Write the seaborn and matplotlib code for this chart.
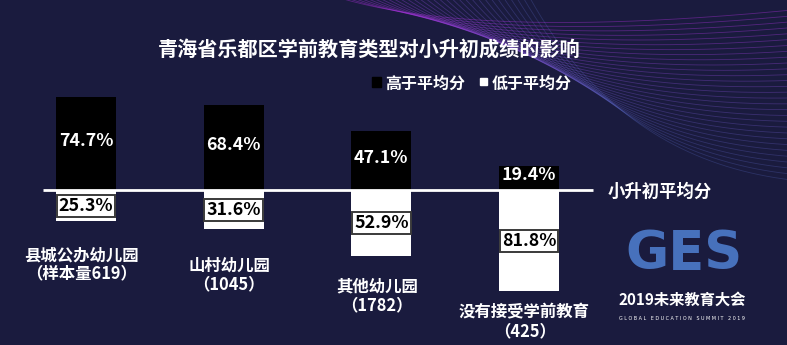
import matplotlib
matplotlib.use("Agg")
import matplotlib.pyplot as plt
from matplotlib.patches import Rectangle
import numpy as np
import pandas as pd
import seaborn as sns

# ---- data ----
categories = ["县城公办幼儿园", "山村幼儿园", "其他幼儿园", "没有接受学前教育"]
sample_labels = ["（样本量619）", "（1045）", "（1782）", "（425）"]
above_avg = [74.7, 68.4, 47.1, 19.4]   # 高于平均分 (%)
below_avg = [25.3, 31.6, 52.9, 81.8]   # 低于平均分 (%)
title = "青海省乐都区学前教育类型对小升初成绩的影响"
legend_labels = ["高于平均分", "低于平均分"]
line_label = "小升初平均分"

sns.set_theme(style="white")
plt.rcParams['font.family'] = ['Noto Sans CJK SC', 'DejaVu Sans']

BG = "#1a1b3e"
W_PX, H_PX = 787, 345
fig = plt.figure(figsize=(7.87, 3.45), dpi=100, facecolor=BG)

# ---- decoration layer (pixel coordinates) ----
deco = fig.add_axes([0, 0, 1, 1], zorder=0)
deco.set_xlim(0, W_PX)
deco.set_ylim(H_PX, 0)
deco.axis("off")
deco.set_facecolor(BG)
tt = np.linspace(0, 1, 200)
n_lines = 30
for k in range(n_lines):
    f = k / (n_lines - 1)
    x0, y0 = 340 + 190 * f, -2
    x1, y1 = 480 + 140 * f, 40 + 120 * f
    x2, y2 = W_PX + 5, 10 + 170 * f
    xs = (1 - tt) ** 2 * x0 + 2 * (1 - tt) * tt * x1 + tt ** 2 * x2
    ys = (1 - tt) ** 2 * y0 + 2 * (1 - tt) * tt * y1 + tt ** 2 * y2
    col = plt.cm.cool(0.45 + 0.35 * (1 - f))
    deco.plot(xs, ys, color=col, lw=0.6, alpha=0.2 + 0.15 * (1 - f))

# legend squares
deco.add_patch(Rectangle((372, 77), 9, 10, color="black", zorder=3))
deco.add_patch(Rectangle((480, 78), 7, 7, color="white", zorder=3))

# ---- main chart ----
ax = fig.add_axes([0, 0, 1, 1], zorder=1)
ax.patch.set_alpha(0)

df_above = pd.DataFrame({"cat": categories, "val": above_avg})
df_below = pd.DataFrame({"cat": categories, "val": [-v for v in below_avg]})

W = 0.406
sns.barplot(data=df_above, x="cat", y="val", color="black", width=W,
            saturation=1, ax=ax, zorder=2, linewidth=0)
sns.barplot(data=df_below, x="cat", y="val", color="white", width=W,
            saturation=1, ax=ax, zorder=2, linewidth=0)

ax.set_xlim(-0.582, 4.747)
ax.set_ylim(-125, 153)
ax.axis("off")

# average line
ax.plot([-0.291, 3.433], [0, 0], color="white", lw=2, zorder=3,
        solid_capstyle="butt")
ax.text(3.53, -1.5, line_label, color="white", fontsize=12.5,
        fontweight="bold", ha="left", va="center", zorder=4)

# value labels
for i, (a, b) in enumerate(zip(above_avg, below_avg)):
    ax.text(i, a / 2 + 2, f"{a}%", color="white", fontsize=12.8,
            fontweight="bold", ha="center", va="center", zorder=4)
    ax.text(i, -b / 2 - 0.5, f"{b}%", color="black", fontsize=12.8,
            fontweight="bold", ha="center", va="center", zorder=4,
            bbox=dict(boxstyle="square,pad=0.12", fc="white",
                      ec="#3a3a3a", lw=1.4))

# category labels
gaps = [20, 22, 18, 10]
for i, (c, s, b) in enumerate(zip(categories, sample_labels, below_avg)):
    ax.text(i - 0.03, -b - gaps[i], c + "\n" + s, color="white",
            fontsize=11.8, fontweight="bold", ha="center", va="top",
            linespacing=1.05, zorder=4)

# title and legend text
fig.text(0.469, 0.858, title, color="white", fontsize=14.5,
         fontweight="bold", ha="center", va="center")
fig.text(0.489, 0.757, legend_labels[0], color="white", fontsize=11.5,
         fontweight="bold", ha="left", va="center")
fig.text(0.625, 0.757, legend_labels[1], color="white", fontsize=11.5,
         fontweight="bold", ha="left", va="center")

# event logo (decoration)
fig.text(0.869, 0.265, "GES", color="#4a76c4", fontsize=38,
         fontweight="bold", ha="center", va="center",
         family=["DejaVu Sans"], alpha=0.95)
fig.text(0.867, 0.13, "2019未来教育大会", color="white", fontsize=11,
         fontweight="bold", ha="center", va="center")
fig.text(0.867, 0.078, "G L O B A L   E D U C A T I O N   S U M M I T   2 0 1 9",
         color="white", fontsize=3.5, ha="center", va="center",
         family=["DejaVu Sans"])

fig.savefig("out.png", dpi=100, facecolor=BG)
